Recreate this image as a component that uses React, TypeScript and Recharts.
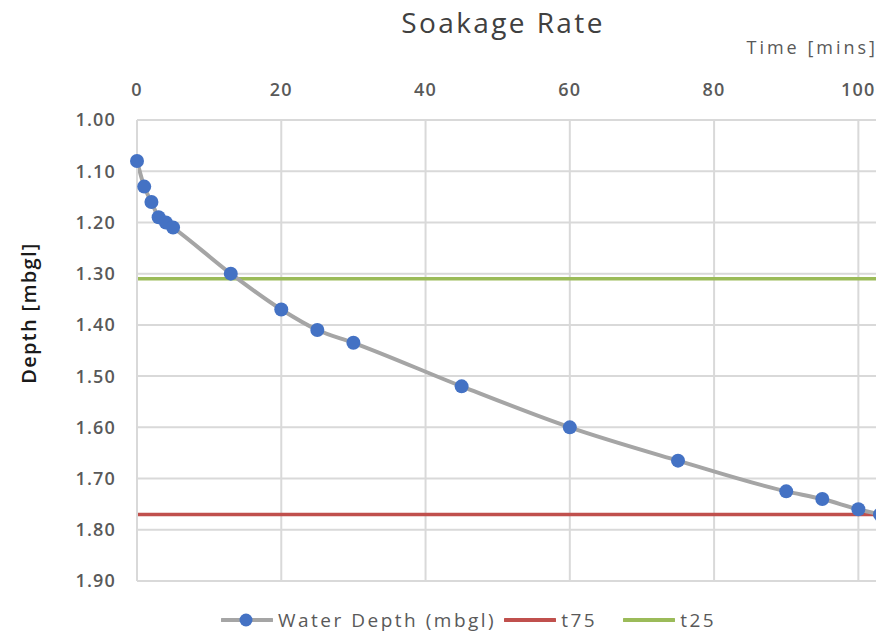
import { LineChart, Line, XAxis, YAxis, CartesianGrid } from "recharts";

const TIME = [0, 1, 2, 3, 4, 5, 13, 20, 25, 30, 45, 60, 75, 90, 95, 100, 103];
const DEPTH = [1.08, 1.13, 1.16, 1.19, 1.2, 1.21, 1.3, 1.37, 1.41, 1.435, 1.52, 1.6, 1.665, 1.725, 1.74, 1.76, 1.77];
const T75 = 1.77;
const T25 = 1.31;
const X_TICKS = [0, 20, 40, 60, 80, 100];
const Y_TICKS = [1.0, 1.1, 1.2, 1.3, 1.4, 1.5, 1.6, 1.7, 1.8, 1.9];

const FONT = "'Open Sans', 'DejaVu Sans', sans-serif";
const GRID = "#d9d9d9";
const TICK = "#595959";
const GRAY = "#a5a5a5";
const BLUE = "#4472c4";
const RED = "#c0504d";
const GREEN = "#9bbb59";

const depthData = TIME.map((t, i) => ({ time: t, depth: DEPTH[i] }));
const xEnds = [TIME[0], TIME[TIME.length - 1]];
const t75Data = xEnds.map((t) => ({ time: t, t75: T75 }));
const t25Data = xEnds.map((t) => ({ time: t, t25: T25 }));

// ticks look spaced out in the original, so add some tracking
const tickStyle = { fill: TICK, fontSize: 18, fontFamily: FONT, fontWeight: 600, letterSpacing: 1.2 };

function LegendItem({ color, label, dot, gap }: { color: string; label: string; dot?: boolean; gap: number }) {
  return (
    <div style={{ display: "flex", alignItems: "center", marginRight: gap }}>
      <svg width={52} height={14} style={{ marginRight: 5 }}>
        <line x1={1} y1={7} x2={51} y2={7} stroke={color} strokeWidth={4} strokeLinecap="round" />
        {dot && <circle cx={25} cy={7} r={6.5} fill={BLUE} />}
      </svg>
      <span>{label}</span>
    </div>
  );
}

export default function App() {
  return (
    <div style={{ position: "relative", width: 884, height: 633, margin: "-8px 0 0 -8px", fontFamily: FONT, background: "#fff" }}>
      <div style={{ position: "absolute", left: 0, width: 1006, top: 3, textAlign: "center", fontSize: 28, color: "#404040", letterSpacing: 2.4 }}>
        Soakage Rate
      </div>
      <div style={{ position: "absolute", right: 6, top: 35, fontSize: 18, color: TICK, letterSpacing: 3 }}>Time [mins]</div>
      <div
        style={{
          position: "absolute",
          left: 28,
          top: 313,
          transform: "translate(-50%, -50%) rotate(-90deg)",
          fontSize: 20,
          fontWeight: 600,
          color: "#1a1a1a",
          whiteSpace: "nowrap",
          letterSpacing: 1.3,
        }}
      >
        Depth [mbgl]
      </div>
      <LineChart width={884} height={633} data={depthData} margin={{ top: 60, right: 4, bottom: 52, left: 0 }}>
        <CartesianGrid stroke={GRID} strokeWidth={2} />
        <XAxis
          dataKey="time"
          type="number"
          orientation="top"
          domain={[0, 103]}
          ticks={X_TICKS}
          height={60}
          axisLine={false}
          tickLine={false}
          tickSize={0}
          tickMargin={24}
          tick={tickStyle}
        />
        <YAxis
          type="number"
          reversed
          domain={[1.0, 1.9]}
          ticks={Y_TICKS}
          interval={0}
          width={137}
          axisLine={{ stroke: GRID, strokeWidth: 2 }}
          tickLine={false}
          tickSize={0}
          tickMargin={21}
          tickFormatter={(v: number) => v.toFixed(2)}
          tick={tickStyle}
        />
        <Line data={t75Data} dataKey="t75" type="linear" stroke={RED} strokeWidth={3.5} dot={false} isAnimationActive={false} />
        <Line data={t25Data} dataKey="t25" type="linear" stroke={GREEN} strokeWidth={3.5} dot={false} isAnimationActive={false} />
        <Line
          dataKey="depth"
          type="monotone"
          stroke={GRAY}
          strokeWidth={4}
          dot={{ r: 7, fill: BLUE, stroke: BLUE, strokeWidth: 0 }}
          isAnimationActive={false}
        />
      </LineChart>
      <div
        style={{
          position: "absolute",
          left: 221,
          top: 607,
          display: "flex",
          alignItems: "center",
          fontSize: 19,
          color: TICK,
          lineHeight: "26px",
          letterSpacing: 2.5,
        }}
      >
        <LegendItem color={GRAY} label="Water Depth (mbgl)" dot gap={8} />
        <LegendItem color={RED} label="t75" gap={26} />
        <LegendItem color={GREEN} label="t25" gap={0} />
      </div>
    </div>
  );
}
